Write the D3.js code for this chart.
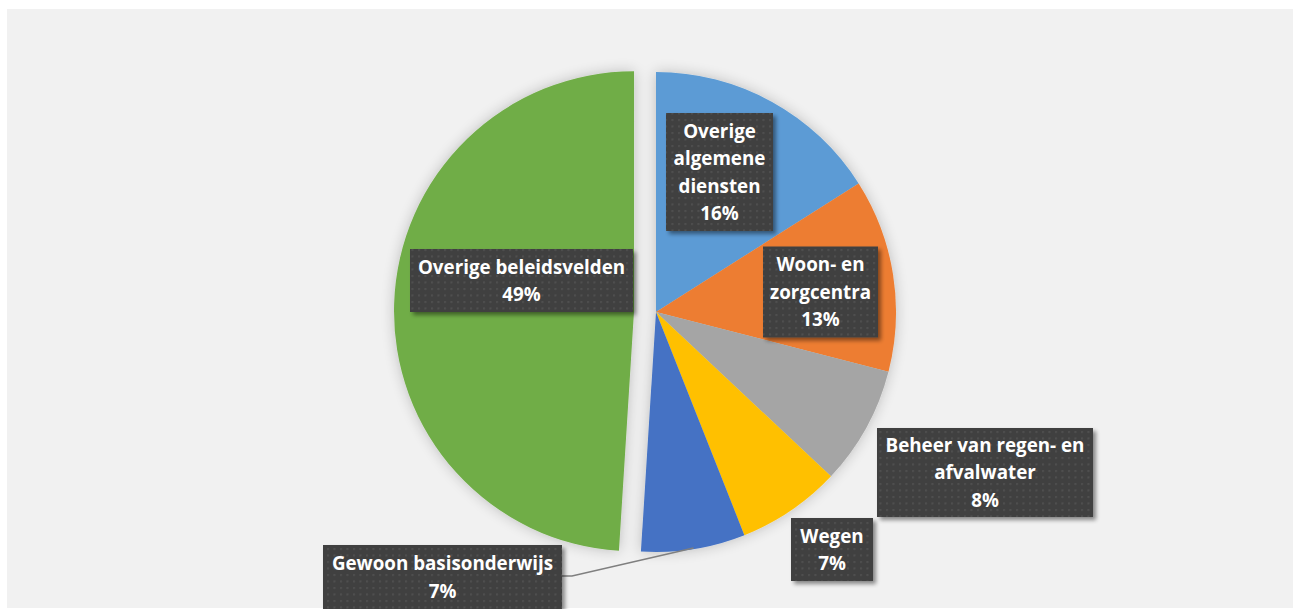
<!DOCTYPE html>
<html>
<head>
<meta charset="utf-8">
<script src="https://cdn.jsdelivr.net/npm/d3@7"></script>
<style>
html,body{margin:0;padding:0;background:#fff;}
svg{display:block;}
</style>
</head>
<body>
<svg id="chart" width="1293" height="609"></svg>
<script>
// ---- data ----
const categories = ["Overige algemene diensten","Woon- en zorgcentra","Beheer van regen- en afvalwater","Wegen","Gewoon basisonderwijs","Overige beleidsvelden"];
const values = [16, 13, 8, 7, 7, 49];
const labelLines = [["Overige","algemene","diensten"],["Woon- en","zorgcentra"],["Beheer van regen- en","afvalwater"],["Wegen"],["Gewoon basisonderwijs"],["Overige beleidsvelden"]];
const colors = ["#5B9BD5","#ED7D31","#A5A5A5","#FFC000","#4472C4","#70AD47"];
const explode = [0,0,0,0,0,22];
// label box layout (center x, center y, width, height)
const labelBoxes = [[719.5,172,107,118],[820.5,292,115,91],[985,472.5,216,89],[832,549.5,82,63],[442.5,577,239,64],[521.5,280.5,223,63]];

const svg = d3.select("#chart");
const W = 1293, H = 609;
const defs = svg.append("defs");

// pie soft shadow
const f1 = defs.append("filter").attr("id","pieShadow").attr("x","-20%").attr("y","-20%").attr("width","140%").attr("height","140%");
f1.append("feGaussianBlur").attr("in","SourceAlpha").attr("stdDeviation",7).attr("result","b");
f1.append("feOffset").attr("in","b").attr("dx",0).attr("dy",0).attr("result","o");
f1.append("feComponentTransfer").attr("in","o").attr("result","s").append("feFuncA").attr("type","linear").attr("slope",0.22);
const m1 = f1.append("feMerge"); m1.append("feMergeNode").attr("in","s"); m1.append("feMergeNode").attr("in","SourceGraphic");

// label box shadow
const f2 = defs.append("filter").attr("id","boxShadow").attr("x","-20%").attr("y","-20%").attr("width","150%").attr("height","150%");
f2.append("feGaussianBlur").attr("in","SourceAlpha").attr("stdDeviation",2).attr("result","b");
f2.append("feOffset").attr("in","b").attr("dx",3).attr("dy",3).attr("result","o");
f2.append("feComponentTransfer").attr("in","o").attr("result","s").append("feFuncA").attr("type","linear").attr("slope",0.45);
const m2 = f2.append("feMerge"); m2.append("feMergeNode").attr("in","s"); m2.append("feMergeNode").attr("in","SourceGraphic");

// dotted pattern
const pat = defs.append("pattern").attr("id","dots").attr("patternUnits","userSpaceOnUse").attr("width",6.5).attr("height",6.5);
pat.append("rect").attr("width",6.5).attr("height",6.5).attr("fill","#3f3f3f");
pat.append("rect").attr("x",2).attr("y",2).attr("width",2).attr("height",2).attr("fill","#525252");

// background
svg.append("rect").attr("x",7).attr("y",9).attr("width",W-7).attr("height",599).attr("fill","#f1f1f1");

const cx = 656, cy = 312, r = 240;
const pie = d3.pie().sort(null).value(d => d)(values);
const arc = d3.arc().innerRadius(0).outerRadius(r);

const g = svg.append("g").attr("transform",`translate(${cx},${cy})`).attr("filter","url(#pieShadow)");
g.selectAll("path").data(pie).join("path")
  .attr("d", arc)
  .attr("fill", (d,i) => colors[i])
  .attr("transform", (d,i) => {
    const a = (d.startAngle + d.endAngle)/2;
    return `translate(${Math.sin(a)*explode[i]},${-Math.cos(a)*explode[i]})`;
  });

// leader line for Gewoon basisonderwijs
{
  const i = 4;
  const d = pie[i];
  const a = (d.startAngle + d.endAngle)/2;
  const p = [Math.sin(a)*r + cx, -Math.cos(a)*r + cy - 1];
  const b = labelBoxes[i];
  const bx = b[0] + b[2]/2, by = b[1] - 1;
  svg.append("polyline")
    .attr("points", `${bx},${by} ${bx+10},${by} ${p[0]},${p[1]}`)
    .attr("fill","none").attr("stroke","#7f7f7f").attr("stroke-width",1.5);
}

// labels
const lg = svg.append("g");
labelBoxes.forEach((b,i) => {
  const grp = lg.append("g");
  grp.append("rect")
    .attr("x", b[0]-b[2]/2).attr("y", b[1]-b[3]/2)
    .attr("width", b[2]).attr("height", b[3])
    .attr("fill","url(#dots)").attr("filter","url(#boxShadow)");
  const lines = labelLines[i].concat([values[i] + "%"]);
  const lh = 27.5;
  const y0 = b[1] - (lines.length-1)*lh/2;
  grp.selectAll("text").data(lines).join("text")
    .attr("x", b[0]).attr("y",(d,k) => y0 + k*lh)
    .attr("dy","0.36em")
    .attr("text-anchor","middle")
    .attr("fill","#ffffff")
    .attr("font-family","'Open Sans', Lato, sans-serif")
    .attr("font-weight","bold")
    .attr("font-size","18.8px")
    .text(d => d);
});
</script>
</body>
</html>
